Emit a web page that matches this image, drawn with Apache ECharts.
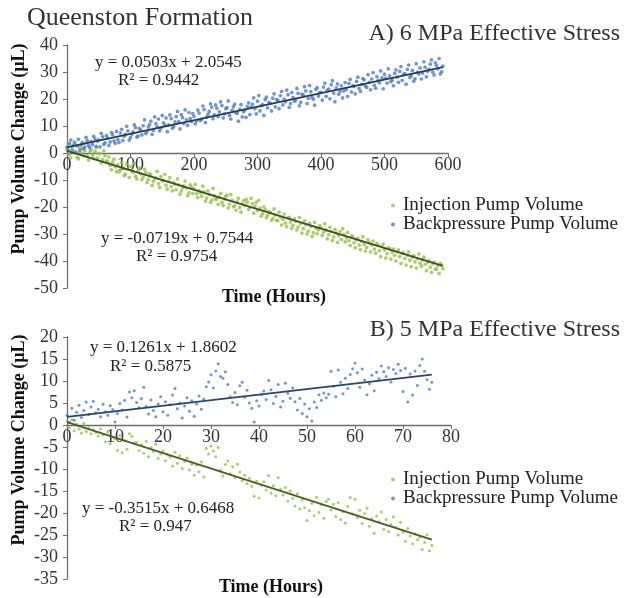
<!DOCTYPE html>
<html>
<head>
<meta charset="utf-8">
<script src="https://cdn.jsdelivr.net/npm/echarts@6/dist/echarts.min.js"></script>
<style>
html,body{margin:0;padding:0;background:#fff;}
#chart{width:624px;height:598px;}
</style>
</head>
<body>
<div id="chart"></div>
<script>
// ---------- DATA ----------
const seriesNames = ['Injection Pump Volume', 'Backpressure Pump Volume'];

// Panel A (6 MPa): two interleaved sample sets, every 4 h from 0 h and from 2 h
const stepA = 4;
const startA1 = 0;
const startA2 = 2;
const blueA = [
2.1,3.5,1.2,4.0,2.6,0.8,3.9,2.2,4.6,1.9,
3.1,5.2,4.4,2.3,6.0,3.8,5.5,4.1,6.8,3.6,
5.0,7.4,4.6,6.9,8.2,5.7,7.8,9.4,6.3,8.6,
10.1,7.2,9.6,11.8,8.4,10.9,12.6,9.3,11.2,13.0,
10.4,12.7,9.8,13.5,11.6,14.2,10.9,12.3,15.0,11.7,
13.6,11.9,14.8,12.5,16.1,13.2,15.4,17.0,14.1,16.6,
15.2,17.6,14.5,16.8,13.9,15.8,18.1,14.7,16.2,13.4,
15.9,17.3,14.2,18.0,16.4,19.2,15.6,17.9,19.8,16.7,
18.4,20.3,17.1,19.5,21.2,17.8,19.0,21.6,18.3,20.5,
19.6,22.1,18.8,21.4,23.0,20.2,22.7,19.9,23.6,21.1,
22.5,24.4,21.0,23.7,25.3,22.2,24.1,21.8,24.9,23.0,
23.5,25.8,22.6,24.7,26.5,23.9,25.4,27.1,24.3,26.2,
27.4,25.1,28.3,26.0,27.8,29.2,25.9,28.6,27.0,29.5,
28.1,30.2,26.9,29.4,31.0,28.0,30.6,27.5,29.9,31.5,
29.6,31.8,30.3,32.9,30.0,33.4,31.2,29.3,32.2
];
const blueA2 = [
1.0,4.8,2.9,0.3,5.1,3.0,1.6,5.8,2.7,4.3,
6.2,2.5,4.9,7.3,3.2,6.4,2.8,7.6,4.5,8.0,
3.9,8.8,6.2,9.9,4.8,7.0,10.4,5.9,9.1,6.7,
12.3,8.0,10.5,6.9,13.4,9.7,8.2,13.9,10.3,7.9,
14.1,9.2,11.5,15.4,8.9,13.1,16.0,10.2,12.8,14.6,
10.8,15.9,12.0,17.4,11.3,14.3,18.2,12.7,17.8,13.5,
18.9,13.0,16.4,19.3,12.6,17.1,15.0,11.8,17.9,15.3,
13.2,18.6,16.9,20.4,14.5,21.3,17.6,13.9,20.7,18.8,
15.6,21.9,19.8,16.4,22.8,20.0,23.3,16.9,22.4,19.2,
23.9,17.5,21.8,24.6,18.3,25.0,20.6,17.7,24.2,22.4,
19.6,25.9,23.2,20.1,26.8,19.0,25.6,22.9,20.4,26.1,
21.0,27.3,25.0,21.9,28.1,22.8,27.6,24.8,29.0,23.4,
29.8,24.0,26.9,30.4,23.8,27.7,31.2,26.4,24.9,30.8,
26.2,32.0,29.1,25.5,32.6,28.7,26.6,33.1,29.3,27.4,
33.8,28.2,31.0,34.5,28.9,32.4,35.0,30.1
];
const greenA = [
1.2,-0.5,2.4,0.3,-1.6,1.8,-0.2,0.9,-1.1,0.4,
-0.8,0.6,-1.9,-0.3,-2.4,-1.0,-3.2,-4.6,-3.5,-5.1,
-4.4,-6.3,-5.5,-7.9,-6.0,-4.9,-7.2,-8.6,-6.8,-7.7,
-8.9,-7.3,-9.8,-8.1,-10.6,-9.2,-11.4,-8.7,-10.1,-11.9,
-10.5,-12.4,-11.0,-13.6,-11.8,-14.1,-12.2,-13.0,-14.8,-12.6,
-13.2,-15.1,-13.9,-16.0,-14.4,-16.7,-15.3,-17.4,-15.8,-16.9,
-16.2,-18.3,-17.0,-15.6,-18.9,-17.5,-19.6,-18.1,-20.2,-18.8,
-19.4,-18.2,-20.1,-18.7,-19.8,-21.3,-20.4,-22.5,-21.0,-23.1,
-22.0,-24.2,-23.0,-25.1,-23.7,-24.5,-26.0,-24.1,-25.6,-26.8,
-25.3,-27.4,-26.1,-28.0,-26.6,-28.9,-27.2,-29.5,-27.8,-28.4,
-27.6,-29.3,-28.5,-30.2,-29.0,-31.1,-29.7,-30.6,-32.0,-30.1,
-31.4,-32.5,-30.8,-33.2,-32.0,-34.1,-32.7,-33.8,-35.0,-33.3,
-34.0,-35.6,-33.5,-36.2,-34.8,-35.9,-37.3,-35.4,-36.8,-37.9,
-36.5,-38.4,-37.2,-39.0,-37.8,-39.7,-38.5,-40.3,-39.1,-40.8,
-39.6,-41.2,-40.4,-42.3,-41.0,-43.1,-41.7,-40.9,-42.8
];
const greenA2 = [
3.4,-1.8,0.6,2.9,-2.2,1.5,-0.9,3.8,-2.6,1.1,
-2.0,1.9,-0.1,-3.7,0.8,-2.9,-1.5,-6.2,-2.3,-6.9,
-7.0,-3.6,-8.4,-4.1,-9.0,-6.5,-3.9,-9.6,-5.6,-9.9,
-6.0,-10.9,-7.6,-12.0,-9.5,-6.8,-12.8,-10.3,-7.9,-13.4,
-9.1,-14.0,-11.5,-9.6,-15.3,-12.9,-10.4,-15.8,-11.8,-14.9,
-11.6,-16.5,-14.6,-12.3,-17.8,-14.0,-18.3,-13.1,-17.2,-19.0,
-14.9,-19.4,-16.0,-20.3,-15.4,-19.9,-21.2,-16.8,-21.9,-17.7,
-17.2,-20.9,-16.8,-22.3,-18.3,-17.5,-23.4,-19.9,-24.0,-21.6,
-25.0,-20.7,-24.9,-21.9,-26.7,-22.6,-27.3,-23.8,-27.9,-24.4,
-28.5,-23.9,-29.7,-25.1,-30.0,-26.0,-30.9,-25.7,-29.9,-26.9,
-30.6,-26.2,-31.8,-27.5,-32.4,-28.3,-33.1,-29.1,-28.0,-32.9,
-29.4,-34.3,-30.9,-35.1,-31.6,-35.8,-31.0,-36.3,-32.1,-36.6,
-32.6,-37.1,-34.2,-38.4,-33.7,-38.9,-35.1,-39.3,-35.6,-40.0,
-35.9,-40.9,-37.0,-41.5,-36.6,-42.1,-38.0,-42.6,-37.4,-41.9,
-38.6,-43.6,-39.9,-44.2,-40.4,-43.0,-44.6,-41.5
];
// Panel B (5 MPa): sampled every 0.5 hours from 0 h
const stepB = 0.5;
const blueB = [
2.2,0.6,3.8,1.1,2.9,4.5,1.7,3.3,5.2,2.4,
4.1,5.4,2.8,3.6,1.9,4.7,3.0,2.2,4.4,3.5,
0.7,2.6,4.9,3.4,5.6,1.8,7.5,6.2,7.8,5.1,
3.9,6.0,8.6,4.2,2.5,5.7,3.3,1.9,4.8,6.4,
3.0,5.3,2.2,4.6,6.8,8.3,3.7,5.0,1.6,4.3,
6.2,3.1,5.5,2.0,4.8,6.6,3.6,5.9,8.7,9.8,
11.4,8.4,12.3,13.9,11.0,10.6,12.1,9.2,6.4,5.1,
7.4,4.6,8.9,9.7,6.3,7.9,5.0,3.8,0.7,5.5,
4.3,6.9,7.7,5.8,10.1,8.0,4.9,6.5,9.2,4.1,
5.4,9.5,7.2,6.1,8.4,5.3,3.4,6.0,2.6,4.8,
1.9,3.7,0.9,5.2,4.0,6.9,5.6,7.3,6.2,7.0,
12.2,8.8,6.4,12.5,9.7,7.1,10.6,8.3,11.5,12.8,
14.1,11.9,8.6,12.7,10.2,6.9,9.4,11.3,7.8,12.0,
10.5,13.4,12.1,11.0,13.0,9.8,12.6,11.7,13.8,12.4,
7.6,12.9,5.2,11.6,6.8,12.3,9.0,13.5,15.0,12.2,
10.3,8.1,9.7
];
const greenB = [
0.9,-0.6,1.2,-1.3,0.2,-0.9,-1.8,0.4,-1.5,-0.7,
-2.0,-1.1,-1.7,-2.5,-0.9,-2.2,-3.8,-1.6,-4.2,-2.7,
-3.1,-5.8,-2.4,-6.3,-3.6,-5.5,-2.0,-2.6,-4.1,-3.9,
-5.8,-4.5,-6.4,-3.7,-7.2,-5.1,-6.0,-4.4,-7.6,-6.6,
-5.9,-8.1,-6.8,-7.3,-9.4,-6.2,-8.7,-7.0,-9.9,-8.3,
-7.5,-10.2,-8.9,-11.4,-9.1,-10.6,-8.4,-11.8,-5.3,-6.6,
-4.8,-5.9,-7.2,-5.1,-10.3,-11.6,-9.0,-8.2,-11.1,-9.5,
-12.0,-8.9,-10.7,-12.6,-11.4,-13.3,-12.1,-14.0,-16.2,-12.8,
-16.6,-13.7,-12.9,-14.8,-11.5,-15.5,-13.8,-16.1,-12.0,-14.6,
-15.9,-14.2,-17.3,-15.0,-16.7,-18.4,-15.6,-19.1,-17.0,-18.8,
-21.7,-19.5,-17.8,-20.6,-16.4,-19.9,-18.1,-21.2,-17.4,-16.9,
-19.3,-18.0,-20.8,-17.6,-21.5,-19.7,-22.3,-18.5,-16.5,-20.2,
-16.9,-21.0,-19.4,-22.4,-20.1,-18.9,-23.0,-21.3,-24.6,-20.7,
-22.0,-19.8,-23.7,-21.5,-24.2,-22.6,-20.9,-23.3,-25.0,-22.1,
-24.3,-26.4,-23.5,-25.2,-27.0,-24.8,-26.1,-25.5,-28.3,-26.7,
-25.0,-28.6,-27.4
];

// Trendline coefficients [slope, intercept] as printed on the chart
const fitBlueA = [0.0503, 2.0545];
const fitGreenA = [-0.0719, 0.7544];
const fitBlueB = [0.1261, 1.8602];
const fitGreenB = [-0.3515, 0.6468];
const eqTexts = {
  blueA: ['y = 0.0503x + 2.0545', 'R² = 0.9442'],
  greenA: ['y = -0.0719x + 0.7544', 'R² = 0.9754'],
  blueB: ['y = 0.1261x + 1.8602', 'R² = 0.5875'],
  greenB: ['y = -0.3515x + 0.6468', 'R² = 0.947']
};

// Axis ranges
const axisA = { xMin: 0, xMax: 600, xInt: 100, yMin: -50, yMax: 40, yInt: 10 };
const axisB = { xMin: 0, xMax: 80, xInt: 10, yMin: -35, yMax: 20, yInt: 5 };

// ---------- BUILD ----------
const toPts = (arr, step, start) => arr.map((v, i) => [+(start + i * step).toFixed(2), v]);
const fitLine = (fit, xEnd) => [[0, fit[1]], [xEnd, fit[0] * xEnd + fit[1]]];
const endA = Math.max(startA1 + (blueA.length - 1) * stepA, startA2 + (blueA2.length - 1) * stepA);
const endB = (blueB.length - 1) * stepB;

const FONT = '"Liberation Serif", "DejaVu Serif", serif';
const BLUE = '#4a7cc6';
const GREEN = '#93c047';
const AXC = '#6e6e6e';

// layout of the panels
const gA = { left: 67, top: 45, width: 381, height: 243 };
const gB = { left: 67, top: 337, width: 384, height: 242 };
// helper grids whose bottom edge sits on y = 0 (to carry the x-axis at zero)
const zeroGrid = (g, ax) => ({ left: g.left, top: g.top, width: g.width,
  height: g.height * ax.yMax / (ax.yMax - ax.yMin) });

function xAxisHidden(ax, gi) {
  return { gridIndex: gi, type: 'value', min: ax.xMin, max: ax.xMax, interval: ax.xInt, show: false };
}
function xAxisVisible(ax, gi) {
  return {
    gridIndex: gi, type: 'value', min: ax.xMin, max: ax.xMax, interval: ax.xInt, position: 'bottom',
    axisLine: { show: true, onZero: false, lineStyle: { color: AXC, width: 1.3 } },
    axisTick: { show: true, length: 4, lineStyle: { color: AXC } },
    axisLabel: { fontFamily: FONT, fontSize: 18, color: '#333', margin: 3 },
    splitLine: { show: false }
  };
}
function yAxisCfg(ax, gi) {
  return {
    gridIndex: gi, type: 'value', min: ax.yMin, max: ax.yMax, interval: ax.yInt,
    axisLine: { show: true, onZero: false, lineStyle: { color: AXC, width: 1.3 } },
    axisTick: { show: true, length: 4, lineStyle: { color: AXC } },
    axisLabel: { fontFamily: FONT, fontSize: 18, color: '#333', margin: 9 },
    splitLine: { show: false }
  };
}
function yAxisHidden(gi) {
  return { gridIndex: gi, type: 'value', min: 0, max: 1, show: false };
}
function scatter(name, data, color, gi, size) {
  return { name, type: 'scatter', xAxisIndex: gi, yAxisIndex: gi, data, symbolSize: size,
    itemStyle: { color }, emphasis: { disabled: true }, z: 4 };
}
function trend(data, color, gi) {
  return { type: 'line', xAxisIndex: gi, yAxisIndex: gi, data, symbol: 'none',
    lineStyle: { color, width: 1.8 }, z: 5, silent: true };
}
function txt(x, y, s, opts) {
  return { type: 'text', x, y, style: Object.assign({
    text: s, fontFamily: FONT, fontSize: 17, fill: '#222', align: 'left', verticalAlign: 'middle'
  }, opts || {}) };
}

const chart = echarts.init(document.getElementById('chart'), null, { renderer: 'canvas' });
const legendBase = {
  orient: 'vertical', left: 386, icon: 'circle', itemWidth: 4, itemHeight: 4, itemGap: 0,
  textStyle: { fontFamily: FONT, fontSize: 19, color: '#222', padding: [0, 0, 0, 3] },
  data: seriesNames, selectedMode: false
};

chart.setOption({
  animation: false,
  backgroundColor: '#fff',
  grid: [gA, gB, zeroGrid(gA, axisA), zeroGrid(gB, axisB)],
  xAxis: [xAxisHidden(axisA, 0), xAxisHidden(axisB, 1), xAxisVisible(axisA, 2), xAxisVisible(axisB, 3)],
  yAxis: [yAxisCfg(axisA, 0), yAxisCfg(axisB, 1), yAxisHidden(2), yAxisHidden(3)],
  legend: [
    Object.assign({}, legendBase, { top: 191 }),
    Object.assign({}, legendBase, { top: 465 })
  ],
  series: [
    scatter(seriesNames[0], toPts(greenA, stepA, startA1).concat(toPts(greenA2, stepA, startA2)), GREEN, 0, 3.7),
    scatter(seriesNames[1], toPts(blueA, stepA, startA1).concat(toPts(blueA2, stepA, startA2)), BLUE, 0, 3.7),
    trend(fitLine(fitBlueA, endA), '#263a52', 0),
    trend(fitLine(fitGreenA, endA), '#3f4f25', 0),
    scatter(seriesNames[0], toPts(greenB, stepB, 0), GREEN, 1, 3),
    scatter(seriesNames[1], toPts(blueB, stepB, 0), BLUE, 1, 3),
    trend(fitLine(fitBlueB, endB), '#2b4468', 1),
    trend(fitLine(fitGreenB, endB), '#4a5e24', 1)
  ],
  graphic: [
    txt(27, 18, 'Queenston Formation', { fontSize: 26, fill: '#333' }),
    txt(620, 34, 'A) 6 MPa Effective Stress', { fontSize: 24, fill: '#333', align: 'right' }),
    txt(620, 330, 'B) 5 MPa Effective Stress', { fontSize: 24, fill: '#333', align: 'right' }),
    txt(95, 63, eqTexts.blueA[0]), txt(118, 81, eqTexts.blueA[1]),
    txt(101, 239, eqTexts.greenA[0]), txt(136, 257, eqTexts.greenA[1]),
    txt(90, 348, eqTexts.blueB[0]), txt(110, 367, eqTexts.blueB[1]),
    txt(82, 509, eqTexts.greenB[0]), txt(119, 527, eqTexts.greenB[1]),
    { type: 'text', x: 19, y: 149, rotation: Math.PI / 2,
      style: { text: 'Pump Volume Change (µL)', fontFamily: FONT, fontWeight: 'bold', fontSize: 18,
        fill: '#111', align: 'center', verticalAlign: 'middle' } },
    { type: 'text', x: 19, y: 440, rotation: Math.PI / 2,
      style: { text: 'Pump Volume Change (µL)', fontFamily: FONT, fontWeight: 'bold', fontSize: 18,
        fill: '#111', align: 'center', verticalAlign: 'middle' } },
    txt(274, 297, 'Time (Hours)', { fontWeight: 'bold', fontSize: 18, fill: '#111', align: 'center' }),
    txt(271, 587, 'Time (Hours)', { fontWeight: 'bold', fontSize: 18, fill: '#111', align: 'center' })
  ]
});
</script>
</body>
</html>
